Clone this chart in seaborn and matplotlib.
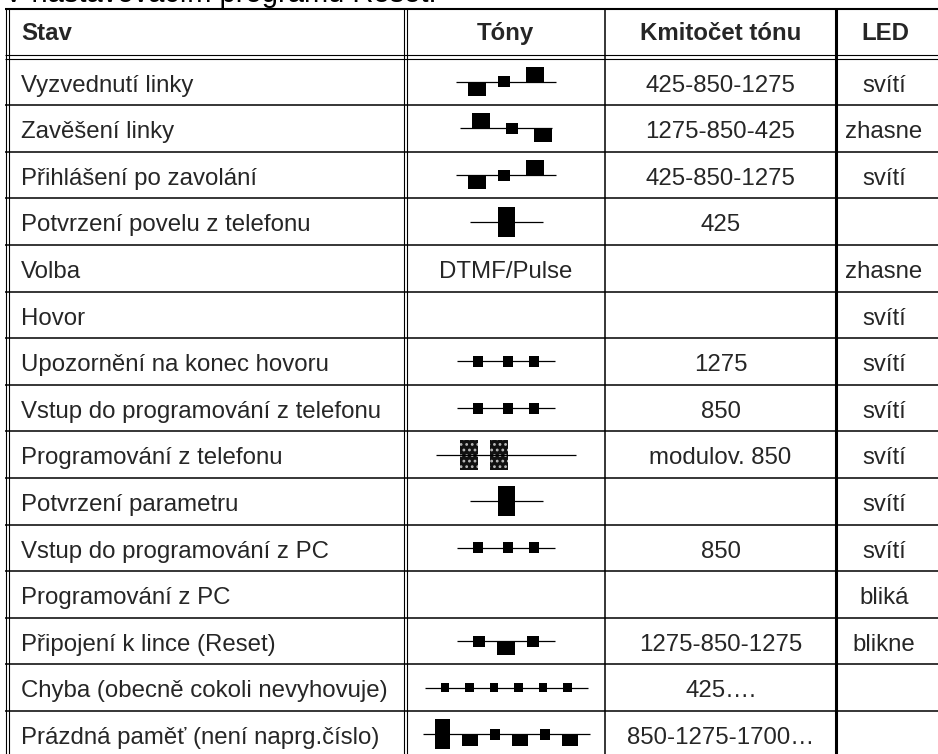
import matplotlib
matplotlib.use("Agg")
import matplotlib.pyplot as plt
import seaborn as sns

# table content
stav = ["Vyzvednutí linky", "Zavěšení linky", "Přihlášení po zavolání",
        "Potvrzení povelu z telefonu", "Volba", "Hovor",
        "Upozornění na konec hovoru", "Vstup do programování z telefonu",
        "Programování z telefonu", "Potvrzení parametru",
        "Vstup do programování z PC", "Programování z PC",
        "Připojení k lince (Reset)", "Chyba (obecně cokoli nevyhovuje)",
        "Prázdná paměť (není naprg.číslo)"]
# tone sketches: '-' line piece, letters = tone blocks
tone_pattern = ["---L---M----H---", "---H----M----L", "---L---M----H---",
                "-------B-------", "", "",
                "----m-----m----m----", "----m-----m----m----",
                "------D---D-----------------", "-------B-------",
                "----m-----m----m----", "",
                "----M---L---M----", "----s----s----s----s----s----s----",
                "---T---l---m---l---m---l---"]
tone_text = ["", "", "", "", "DTMF/Pulse", "", "", "", "", "", "", "", "", "", ""]
kmitocet = ["425-850-1275", "1275-850-425", "425-850-1275", "425", "", "",
            "1275", "850", "modulov. 850", "", "850", "",
            "1275-850-1275", "425….", "850-1275-1700…"]
led = ["svítí", "zhasne", "svítí", "", "zhasne", "svítí", "svítí", "svítí",
       "svítí", "svítí", "svítí", "bliká", "blikne", "", ""]
headers = ["Stav", "Tóny", "Kmitočet tónu", "LED"]
caption = "V nastavovacím programu Reset."

# block kinds: width, height, placement against the line
kinds = {"L": (18, 14, "below"), "H": (18, 15, "above"), "M": (12, 11, "center"),
         "m": (10, 11, "center"), "s": (8.5, 9, "center"), "B": (17, 30, "center"),
         "D": (18, 30, "center"), "T": (15, 30, "center"), "l": (16, 12, "below")}
dash = 4

sns.set_theme(style="white")
plt.rcParams["font.family"] = ["Liberation Sans", "DejaVu Sans"]
plt.rcParams["hatch.linewidth"] = 1.2
fs = 17.3

fig = plt.figure(figsize=(9.38, 7.54), dpi=100)
ax = fig.add_axes([0, 0, 1, 1])
ax.set_xlim(0, 938)
ax.set_ylim(754, 0)
ax.axis("off")

col_x = [6, 405, 605, 836, 934]
head_top, head_bot = 9, 58.5
pitch = 46.6
n = len(stav)
row_edges = [head_bot + pitch * i for i in range(n + 1)]

# grid
ax.hlines(head_top, 5, 940, color="black", lw=1.5)
ax.hlines([head_bot - 3.5, head_bot], 5, 940, color="black", lw=0.8)
ax.hlines(row_edges[1:], 5, 940, color="black", lw=1.1)
ax.vlines([col_x[0] - 0.5, col_x[0] + 2.5], head_top, 760, color="black", lw=0.8)
ax.vlines([col_x[1] - 1.5, col_x[1] + 1.5], head_top, 760, color="black", lw=0.8)
ax.vlines(col_x[2], head_top, 760, color="black", lw=1.1)
ax.vlines(col_x[3], head_top, 760, color="black", lw=2.2)

# caption above, cut by the top edge as in the source
ax.text(4, 2.0, caption, fontsize=21, va="baseline", ha="left", color="black")

# header
hy = 40
ax.text(21, hy, headers[0], fontsize=fs, fontweight="bold", va="baseline", ha="left")
for j in range(1, 4):
    ax.text((col_x[j] + col_x[j + 1]) / 2, hy, headers[j], fontsize=fs,
            fontweight="bold", va="baseline", ha="center")


def draw_tone(pattern, cx, cy):
    total = sum(dash if c == "-" else kinds[c][0] for c in pattern)
    x = cx - total / 2
    ax.hlines(cy, x, x + total, color="black", lw=0.9)
    for c in pattern:
        if c == "-":
            x += dash
            continue
        w, h, place = kinds[c]
        if place == "below":
            bottom = cy
        elif place == "above":
            bottom = cy - h
        else:
            bottom = cy - h / 2
        if c == "D":
            ax.bar(x, h, width=w, bottom=bottom, align="edge", color="#111111",
                   edgecolor="#bbbbbb", linewidth=0, hatch="...")
        else:
            ax.bar(x, h, width=w, bottom=bottom, align="edge", color="black",
                   linewidth=0)
        x += w


for i in range(n):
    cy = (row_edges[i] + row_edges[i + 1]) / 2
    by = cy + 9.8
    ax.text(21, by, stav[i], fontsize=fs, va="baseline", ha="left")
    cx_t = (col_x[1] + col_x[2]) / 2 + 1
    if tone_pattern[i]:
        draw_tone(tone_pattern[i], cx_t, cy)
    if tone_text[i]:
        ax.text(cx_t, by, tone_text[i], fontsize=fs, va="baseline", ha="center")
    ax.text((col_x[2] + col_x[3]) / 2, by, kmitocet[i], fontsize=fs,
            va="baseline", ha="center")
    ax.text((col_x[3] + col_x[4]) / 2 - 1, by, led[i], fontsize=fs,
            va="baseline", ha="center")

fig.savefig("out.png", dpi=100)
